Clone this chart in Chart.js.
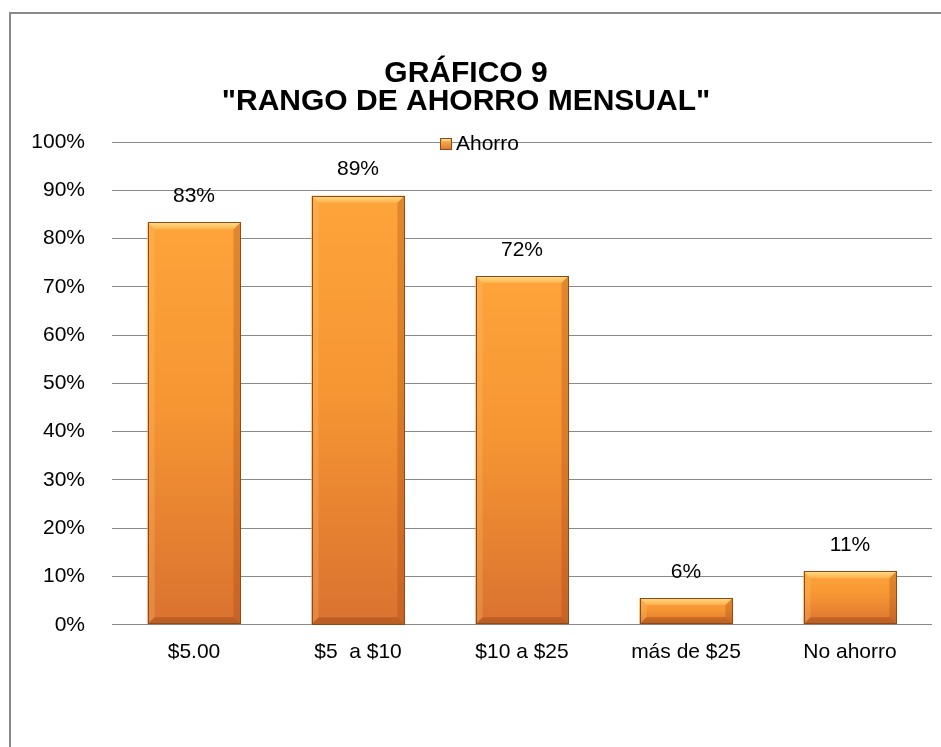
<!DOCTYPE html>
<html>
<head>
<meta charset="utf-8">
<script src="https://cdn.jsdelivr.net/npm/chart.js@4/dist/chart.umd.min.js"></script>
<style>
  html, body { margin: 0; padding: 0; background: #fff; overflow: hidden; }
  .frame { position: absolute; left: 9px; top: 12px; width: 1000px; height: 1000px; border: 2px solid #8a8a8a; }
  .chart-container { position: absolute; left: 0; top: 0; width: 941px; height: 747px; }
</style>
</head>
<body>
<div class="frame"></div>
<div class="chart-container"><canvas id="chart"></canvas></div>
<script>
// chart data
const categories = ['$5.00', '$5  a $10', '$10 a $25', 'más de $25', 'No ahorro'];
const ahorro = [83.33, 88.89, 72.22, 5.56, 11.11];
const seriesName = 'Ahorro';
const titleLines = ['GRÁFICO 9', '"RANGO DE AHORRO MENSUAL"'];

const FONT = "'Liberation Sans', Arial, sans-serif";

// vertical gradient per bar, built from the y scale
function barFill(ctx) {
  const chart = ctx.chart;
  const y = chart.scales && chart.scales.y;
  if (!chart.chartArea || !y) return '#F7962F';
  const v = ctx.raw;
  const top = y.getPixelForValue(v);
  const bottom = y.getPixelForValue(0);
  const g = chart.ctx.createLinearGradient(0, top, 0, bottom);
  g.addColorStop(0, '#FDA43A');
  g.addColorStop(0.45, '#F69633');
  g.addColorStop(1, '#DA7230');
  return g;
}

// Excel-like bevel on each bar
const bevelPlugin = {
  id: 'bevel',
  afterDatasetsDraw(chart) {
    const c = chart.ctx;
    chart.getDatasetMeta(0).data.forEach(bar => {
      const x0 = bar.x - bar.width / 2, x1 = bar.x + bar.width / 2;
      const y0 = bar.y, y1 = bar.base;
      const b = Math.min(7, (y1 - y0) / 2);
      c.save();
      // top
      const gt = c.createLinearGradient(0, y0, 0, y0 + b);
      gt.addColorStop(0, '#FFDD8C');
      gt.addColorStop(1, '#FDB24A');
      c.fillStyle = gt;
      c.beginPath();
      c.moveTo(x0, y0); c.lineTo(x1, y0); c.lineTo(x1 - b, y0 + b); c.lineTo(x0 + b, y0 + b);
      c.closePath(); c.fill();
      // left
      c.fillStyle = 'rgba(255,200,120,0.25)';
      c.beginPath();
      c.moveTo(x0, y0); c.lineTo(x0 + b, y0 + b); c.lineTo(x0 + b, y1 - b); c.lineTo(x0, y1);
      c.closePath(); c.fill();
      // right
      c.fillStyle = 'rgba(150,60,10,0.28)';
      c.beginPath();
      c.moveTo(x1, y0); c.lineTo(x1 - b, y0 + b); c.lineTo(x1 - b, y1 - b); c.lineTo(x1, y1);
      c.closePath(); c.fill();
      // bottom
      c.fillStyle = 'rgba(120,45,5,0.3)';
      c.beginPath();
      c.moveTo(x0, y1); c.lineTo(x0 + b, y1 - b); c.lineTo(x1 - b, y1 - b); c.lineTo(x1, y1);
      c.closePath(); c.fill();
      // outline
      c.strokeStyle = '#8E4A17';
      c.lineWidth = 1;
      c.strokeRect(Math.round(x0) + 0.5, Math.round(y0) + 0.5, Math.round(x1 - x0) - 1, Math.round(y1 - y0) - 1);
      c.restore();
    });
  }
};

// value labels above bars
const valueLabels = {
  id: 'valueLabels',
  afterDatasetsDraw(chart) {
    const c = chart.ctx;
    const ds = chart.data.datasets[0];
    c.save();
    c.font = '21px ' + FONT;
    c.fillStyle = '#000';
    c.textAlign = 'center';
    c.textBaseline = 'middle';
    chart.getDatasetMeta(0).data.forEach((bar, i) => {
      c.fillText(Math.round(ds.data[i]) + '%', bar.x, bar.y - 26);
    });
    c.restore();
  }
};

// legend sitting on the top gridline, inside the plot
const innerLegend = {
  id: 'innerLegend',
  afterDraw(chart) {
    const c = chart.ctx;
    const a = chart.chartArea;
    const x = a.left + a.width * 0.4;
    const y = a.top + 2;
    c.save();
    const g = c.createLinearGradient(0, y - 6, 0, y + 6);
    g.addColorStop(0, '#FFC15A');
    g.addColorStop(1, '#DD7430');
    c.fillStyle = g;
    c.fillRect(x, y - 6, 12, 12);
    c.fillStyle = 'rgba(255,230,150,0.8)';
    c.beginPath();
    c.moveTo(x, y - 6); c.lineTo(x + 12, y - 6); c.lineTo(x + 9, y - 3); c.lineTo(x + 3, y - 3);
    c.closePath(); c.fill();
    c.strokeStyle = '#8E4A17';
    c.lineWidth = 1;
    c.strokeRect(x + 0.5, y - 5.5, 11, 11);
    c.font = '21px ' + FONT;
    c.fillStyle = '#000';
    c.textBaseline = 'middle';
    c.fillText(chart.data.datasets[0].label, x + 16, y);
    c.restore();
  }
};

new Chart(document.getElementById('chart'), {
  type: 'bar',
  data: {
    labels: categories,
    datasets: [{
      label: seriesName,
      data: ahorro,
      backgroundColor: barFill,
      borderWidth: 0,
      categoryPercentage: 1,
      barPercentage: 0.567
    }]
  },
  options: {
    responsive: true,
    maintainAspectRatio: false,
    animation: false,
    layout: { padding: { left: 0, right: 9, top: 0, bottom: 67 } },
    plugins: {
      legend: { display: false },
      tooltip: { enabled: false },
      title: {
        display: true,
        text: titleLines,
        color: '#000',
        font: { family: FONT, size: 30, weight: 'bold', lineHeight: 0.95 },
        padding: { top: 59, bottom: 26 }
      }
    },
    scales: {
      x: {
        grid: { display: false, drawTicks: false },
        border: { display: false },
        ticks: { color: '#000', padding: 15, font: { family: FONT, size: 21 }, maxRotation: 0 }
      },
      y: {
        min: 0,
        max: 100,
        grid: { color: '#8a8a8a', lineWidth: 1, drawTicks: false },
        border: { display: false },
        ticks: {
          stepSize: 10,
          color: '#000',
          padding: 27,
          font: { family: FONT, size: 21 },
          callback: v => v + '%'
        },
        afterFit(scale) { scale.width = 112; }
      }
    }
  },
  plugins: [bevelPlugin, valueLabels, innerLegend]
});
</script>
</body>
</html>
